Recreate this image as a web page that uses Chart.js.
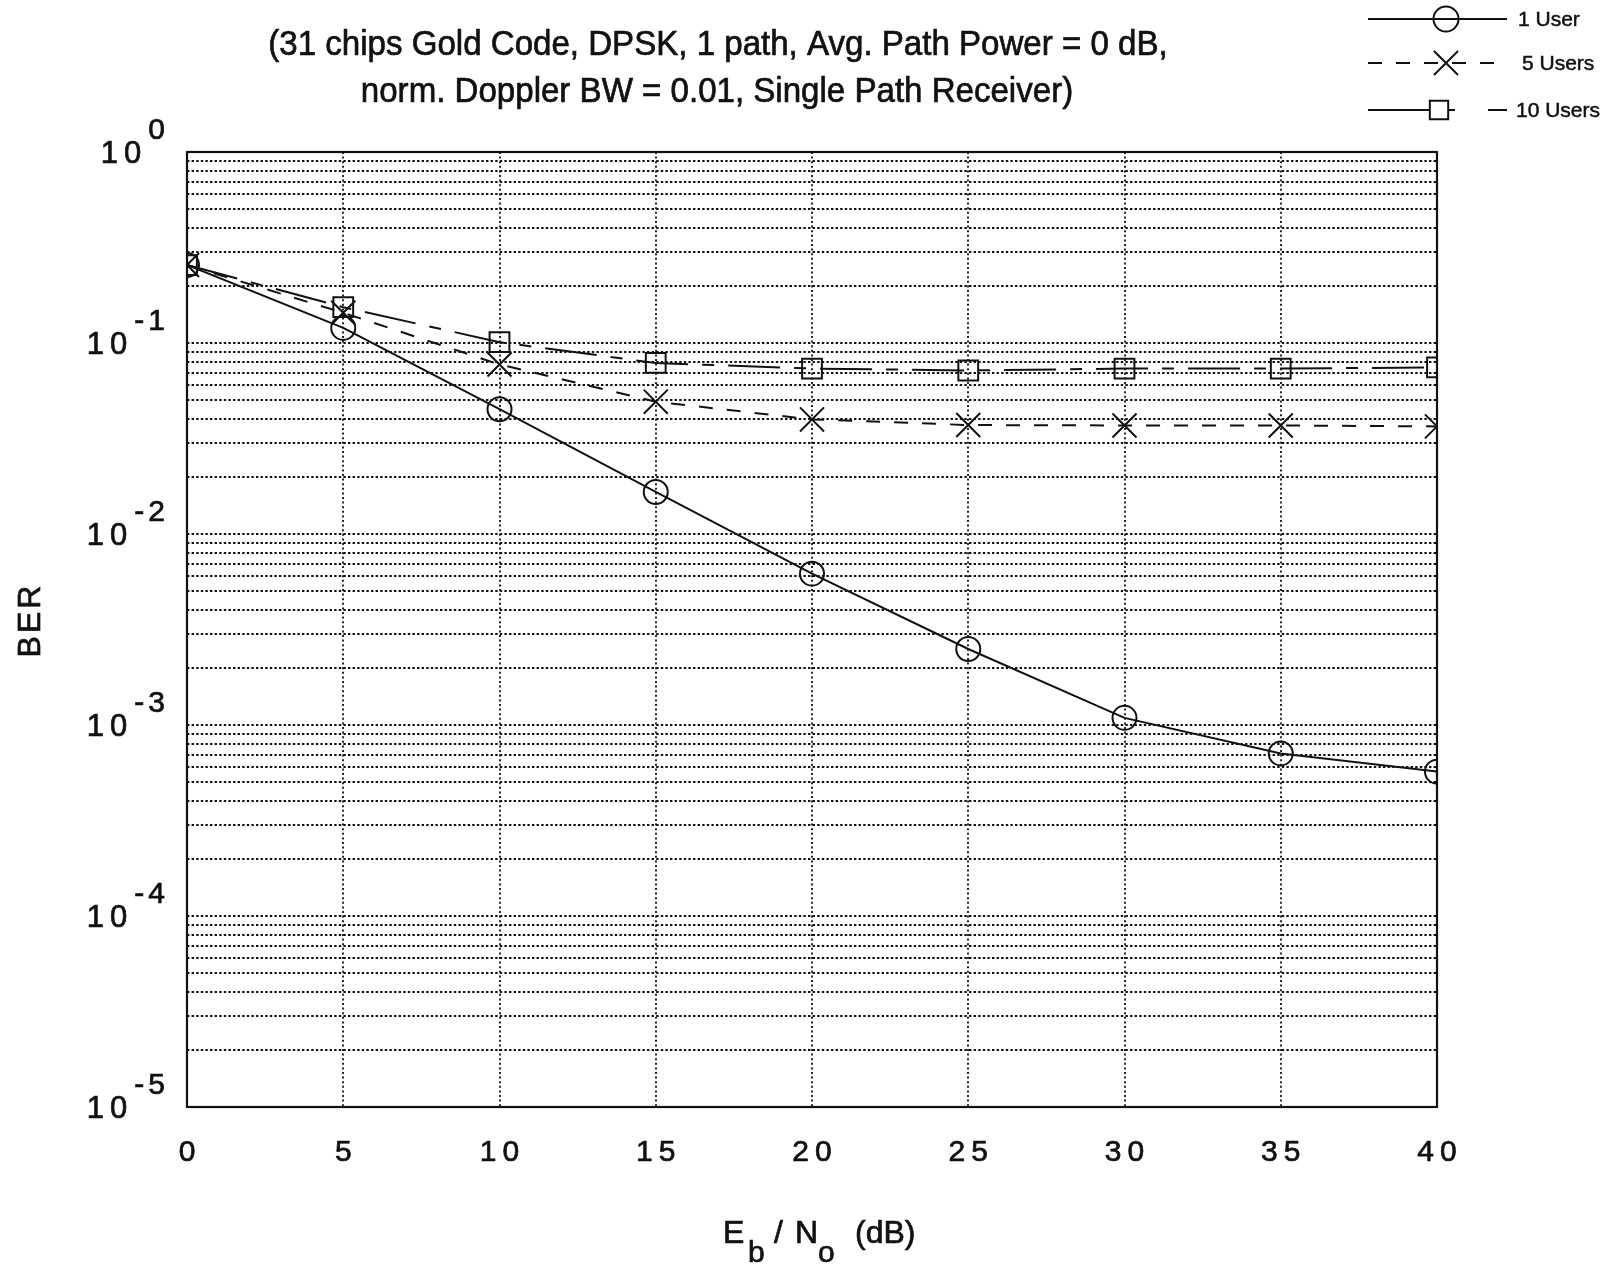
<!DOCTYPE html>
<html>
<head>
<meta charset="utf-8">
<title>BER vs Eb/No</title>
<script src="https://cdn.jsdelivr.net/npm/chart.js@4.4.0/dist/chart.umd.min.js"></script>
<style>
  html, body { margin: 0; padding: 0; background: #fff; }
  #wrap { width: 1612px; height: 1264px; }
</style>
</head>
<body>
<div id="wrap"><canvas id="ber" width="1612" height="1264"></canvas></div>
<script>
// Eb/No in dB
const ebNo = [0, 5, 10, 15, 20, 25, 30, 35, 40];

// Bit error rate per number of users
const ber1User   = [0.256, 0.120, 0.045, 0.0166, 0.0062, 0.0025, 0.00109, 0.00071, 0.00057];
const ber5Users  = [0.256, 0.144, 0.0772, 0.0493, 0.0398, 0.0372, 0.0370, 0.0370, 0.0366];
const ber10Users = [0.256, 0.154, 0.101, 0.0786, 0.0735, 0.0718, 0.0735, 0.0735, 0.0745];

const seriesNames = ['1 User', '5 Users', '10 Users'];

// Axis ticks
const xTicks = [0, 5, 10, 15, 20, 25, 30, 35, 40];
const yDecades = [0, -1, -2, -3, -4, -5];
const yTickLabels = ['0', '-1', '-2', '-3', '-4', '-5'];

const titleLines = [
  '(31 chips Gold Code, DPSK, 1 path, Avg. Path Power = 0 dB,',
  'norm. Doppler BW = 0.01, Single Path Receiver)'
];

// log grid: 1..9 x 10^n for every decade
const yGrid = [];
for (let d = -5; d < 0; d++) {
  for (let m = 1; m <= 9; m++) yGrid.push(m * Math.pow(10, d));
}
yGrid.push(1);

const INK = '#111';
const FONT = '"Liberation Sans", Arial, sans-serif';

const toPts = arr => arr.map((v, i) => ({ x: ebNo[i], y: v }));

const datasets = [
  { label: seriesNames[0], data: toPts(ber1User), borderDash: [],
    pointStyle: 'circle', pointRadius: 12 },
  { label: seriesNames[1], data: toPts(ber5Users), borderDash: [14, 14],
    pointStyle: 'crossRot', pointRadius: 17 },
  { label: seriesNames[2], data: toPts(ber10Users), borderDash: [52, 14, 12, 14],
    pointStyle: 'rect', pointRadius: 14 }
].map(d => Object.assign(d, {
  borderColor: INK, borderWidth: 2, tension: 0, fill: false,
  pointBorderColor: INK, pointBackgroundColor: 'rgba(0,0,0,0)',
  pointBorderWidth: 2, pointHoverRadius: d.pointRadius
}));

// background + dotted grid + frame
const gridPlugin = {
  id: 'gridFrame',
  beforeDraw(chart) {
    const ctx = chart.ctx;
    ctx.save();
    ctx.fillStyle = '#fff';
    ctx.fillRect(0, 0, chart.width, chart.height);
    ctx.restore();
  },
  beforeDatasetsDraw(chart) {
    const { ctx, chartArea: a, scales: { x, y } } = chart;
    ctx.save();
    ctx.strokeStyle = INK;
    ctx.lineWidth = 1.8;
    ctx.setLineDash([2.4, 2.2]);
    yGrid.forEach(v => {
      const py = Math.round(y.getPixelForValue(v));
      if (py <= a.top + 1 || py >= a.bottom - 1) return;
      ctx.beginPath(); ctx.moveTo(a.left, py); ctx.lineTo(a.right, py); ctx.stroke();
    });
    ctx.setLineDash([2, 2.6]);
    xTicks.forEach(v => {
      const px = Math.round(x.getPixelForValue(v));
      if (px <= a.left + 1 || px >= a.right - 1) return;
      ctx.beginPath(); ctx.moveTo(px, a.top); ctx.lineTo(px, a.bottom); ctx.stroke();
    });
    ctx.setLineDash([]);
    ctx.lineWidth = 2.2;
    ctx.strokeRect(a.left, a.top, a.right - a.left, a.bottom - a.top);
    ctx.restore();
  }
};

function drawMarker(ctx, style, r, cx, cy) {
  ctx.beginPath();
  if (style === 'circle') {
    ctx.arc(cx, cy, r, 0, Math.PI * 2);
  } else if (style === 'crossRot') {
    const h = r * Math.SQRT1_2;
    ctx.moveTo(cx - h, cy - h); ctx.lineTo(cx + h, cy + h);
    ctx.moveTo(cx - h, cy + h); ctx.lineTo(cx + h, cy - h);
  } else {
    const h = r * Math.SQRT1_2;
    ctx.rect(cx - h, cy - h, 2 * h, 2 * h);
  }
  ctx.stroke();
}

// filled text with a thin outline so glyphs read a little heavier
function ink(ctx, s, px, py) {
  ctx.fillText(s, px, py);
  ctx.strokeText(s, px, py);
}

// tick labels, axis titles, title and key
const textPlugin = {
  id: 'texts',
  afterDraw(chart) {
    const { ctx, chartArea: a, scales: { x, y } } = chart;
    ctx.save();
    ctx.fillStyle = INK;
    ctx.strokeStyle = INK;
    ctx.lineWidth = 0.7;
    ctx.setLineDash([]);

    // x tick labels
    ctx.font = '30px ' + FONT;
    ctx.letterSpacing = '6px';
    ctx.textAlign = 'center';
    ctx.textBaseline = 'middle';
    xTicks.forEach(v => {
      ink(ctx, String(v), x.getPixelForValue(v) + 3, a.bottom + 46);
    });

    // y tick labels: 10 with raised exponent
    const rightEdge = a.left - 22;
    yDecades.forEach((d, i) => {
      const py = y.getPixelForValue(Math.pow(10, d));
      ctx.font = '30px ' + FONT;
      ctx.letterSpacing = '4px';
      ctx.textAlign = 'left';
      ctx.textBaseline = 'alphabetic';
      const sup = yTickLabels[i];
      const sw = ctx.measureText(sup).width;
      ink(ctx, sup, rightEdge - sw + 4, py - 13);
      ctx.textAlign = 'right';
      ctx.textBaseline = 'middle';
      ctx.font = '31px ' + FONT;
      ctx.letterSpacing = '6px';
      ink(ctx, '10', rightEdge - sw + 3, py + 2);
    });
    ctx.letterSpacing = '0px';

    // y axis title
    ctx.save();
    ctx.translate(31, 620);
    ctx.rotate(-Math.PI / 2);
    ctx.font = '32px ' + FONT;
    ctx.letterSpacing = '3px';
    ctx.textAlign = 'center';
    ctx.textBaseline = 'middle';
    ink(ctx, 'BER', 0, 0);
    ctx.restore();
    ctx.letterSpacing = '0px';

    // x axis title: Eb / No (dB)
    ctx.textAlign = 'left';
    ctx.textBaseline = 'alphabetic';
    ctx.font = '32px ' + FONT;
    ink(ctx, 'E', 723, 1243);
    ink(ctx, '/', 774, 1243);
    ink(ctx, 'N', 795, 1243);
    ink(ctx, '(dB)', 855, 1243);
    ctx.font = '30px ' + FONT;
    ink(ctx, 'b', 748, 1262);
    ink(ctx, 'o', 818, 1262);

    // title, set slightly condensed
    ctx.save();
    ctx.font = '35px ' + FONT;
    ctx.textAlign = 'center';
    ctx.textBaseline = 'middle';
    ctx.scale(0.945, 1);
    ink(ctx, titleLines[0], 718 / 0.945, 45);
    ink(ctx, titleLines[1], 717 / 0.945, 92);
    ctx.restore();

    // key
    const rows = [19, 63, 110];
    const markerX = [1446, 1446, 1439];
    const textX = [1518, 1522, 1516];
    chart.data.datasets.forEach((ds, i) => {
      const cy = rows[i];
      ctx.strokeStyle = INK;
      ctx.lineWidth = 2;
      if (i === 2) {
        ctx.setLineDash([]);
        ctx.beginPath();
        ctx.moveTo(1368, cy); ctx.lineTo(1430, cy);
        ctx.moveTo(1448, cy); ctx.lineTo(1455, cy);
        ctx.moveTo(1488, cy); ctx.lineTo(1507, cy);
        ctx.stroke();
      } else {
        ctx.setLineDash(ds.borderDash);
        ctx.beginPath(); ctx.moveTo(1368, cy); ctx.lineTo(1507, cy); ctx.stroke();
      }
      ctx.setLineDash([]);
      const r = i === 0 ? 12.5 : (i === 1 ? 17 : 13);
      drawMarker(ctx, ds.pointStyle, r, markerX[i], cy);
      ctx.font = '21px ' + FONT;
      ctx.textAlign = 'left';
      ctx.textBaseline = 'middle';
      ctx.lineWidth = 0.5;
      ink(ctx, ds.label, textX[i], cy + 1);
    });
    ctx.restore();
  }
};

new Chart(document.getElementById('ber'), {
  type: 'line',
  data: { datasets },
  plugins: [gridPlugin, textPlugin],
  options: {
    responsive: false,
    animation: false,
    events: [],
    layout: { padding: { left: 187, right: 175, top: 152, bottom: 157 } },
    plugins: { legend: { display: false }, tooltip: { enabled: false }, title: { display: false } },
    scales: {
      x: {
        type: 'linear', min: 0, max: 40,
        afterBuildTicks: s => { s.ticks = xTicks.map(v => ({ value: v })); },
        afterFit: s => { s.height = 0; },
        ticks: { display: false },
        grid: { display: false, drawTicks: false },
        border: { display: false }
      },
      y: {
        type: 'logarithmic', min: 1e-5, max: 1,
        afterBuildTicks: s => { s.ticks = yGrid.map(v => ({ value: v })); },
        afterFit: s => { s.width = 0; },
        ticks: { display: false },
        grid: { display: false, drawTicks: false },
        border: { display: false }
      }
    }
  }
});
</script>
</body>
</html>
